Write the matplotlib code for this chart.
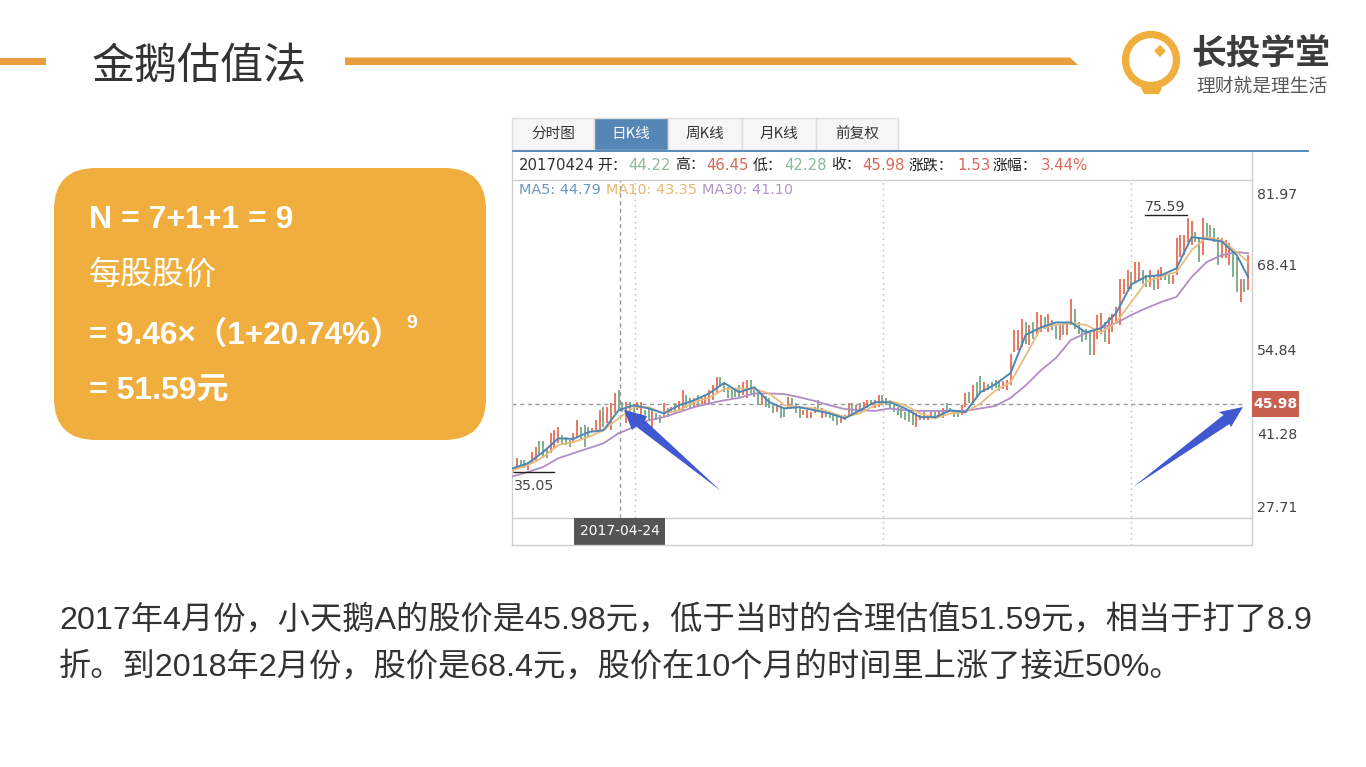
import numpy as np
import matplotlib
matplotlib.use("Agg")
import matplotlib.pyplot as plt
from matplotlib.patches import Rectangle, FancyBboxPatch, Circle, Polygon

# ---------- data ----------
highs = [
 35.9,37.3,37.0,37.0,36.7,38.3,39.1,40.0,40.0,38.9,
 41.3,41.8,42.3,41.0,40.7,40.2,41.3,43.4,42.3,42.6,
 42.3,42.1,43.4,45.0,45.6,45.6,46.1,47.7,48.3,46.4,
 46.4,46.4,46.0,46.4,46.4,45.0,45.3,45.3,44.5,44.2,
 46.1,45.3,45.6,46.1,46.5,48.2,47.4,46.9,46.9,47.4,
 46.9,47.4,48.2,49.0,50.4,50.4,49.6,48.8,48.2,48.6,
 49.0,49.6,49.8,49.8,48.8,48.0,47.7,47.3,46.9,45.8,
 45.8,45.6,45.3,47.2,46.9,46.2,45.6,45.0,45.0,44.8,
 45.6,46.6,45.3,45.0,44.8,44.6,44.2,44.0,44.2,46.1,
 46.1,45.8,46.1,46.4,46.7,46.6,46.6,47.4,47.4,46.9,
 46.4,45.8,45.5,45.3,
 44.7,45.0,44.7,44.5,44.2,44.7,44.2,44.7,44.7,45.0,
 45.4,46.1,45.3,45.0,44.7,45.8,47.7,48.0,49.0,49.6,
 50.5,49.6,49.3,49.5,49.8,49.6,49.7,
 49.8,54.1,57.9,57.9,59.7,59.1,58.7,59.1,60.7,60.3,
 60.0,60.4,59.5,58.7,58.9,58.9,59.2,62.8,61.3,59.2,
 58.0,58.1,57.9,57.9,60.3,60.6,59.2,60.0,
 60.5,61.6,66.1,66.0,67.5,67.2,68.8,68.8,67.6,66.7,
 67.6,66.7,67.6,68.0,66.9,66.9,66.7,72.7,73.1,73.1,
 75.8,75.4,73.6,72.6,75.8,75.1,74.7,74.2,72.8,72.6,
 72.3,71.8,70.4,69.6,66.1,66.1,69.9,
]
lows = [
 34.9,35.9,36.2,35.7,35.4,36.7,36.7,37.8,37.5,37.3,
 38.1,38.9,39.7,39.4,39.4,39.1,39.7,40.7,40.2,39.1,
 40.7,41.5,41.8,41.8,42.3,42.9,41.8,44.5,45.0,44.8,
 42.9,44.8,44.5,45.0,44.2,44.2,43.4,41.8,43.4,43.0,
 43.7,44.0,44.5,44.5,44.9,45.0,45.3,45.3,45.3,45.6,
 45.8,45.9,45.8,46.6,47.7,48.8,48.0,46.9,46.9,47.1,
 47.2,47.4,46.9,47.4,47.2,45.8,45.8,45.5,45.3,44.5,
 44.8,43.8,44.0,45.3,45.3,44.5,43.8,44.2,43.8,43.8,
 44.5,44.8,43.8,44.0,43.7,43.3,42.6,42.9,43.4,44.0,
 44.2,44.2,44.8,45.0,45.3,45.8,45.3,45.6,45.8,45.8,
 45.3,44.8,44.2,43.7,
 43.4,43.1,42.6,42.3,43.4,43.4,43.4,43.7,44.0,43.9,
 43.7,44.5,44.8,44.0,44.0,44.2,45.6,46.1,46.1,46.9,
 47.7,48.0,48.2,48.3,48.5,48.1,48.4,
 48.2,49.0,54.4,54.6,55.2,55.7,55.5,56.5,57.3,57.6,
 58.1,57.6,57.9,56.5,56.3,57.1,57.1,58.7,58.1,57.3,
 56.0,56.3,53.9,53.9,56.5,57.3,56.0,55.7,
 57.6,58.9,58.7,63.7,64.5,64.5,65.6,65.9,65.3,64.8,
 64.8,64.3,64.5,65.9,65.9,65.3,65.3,66.7,69.6,69.9,
 72.0,71.5,72.0,68.8,69.9,72.3,72.6,72.0,68.3,69.4,
 69.4,68.3,66.4,64.0,62.4,64.0,64.3,
]
up = [
 1,1,0,0,1,1,1,0,0,0,
 1,1,1,0,0,0,1,1,0,0,
 0,1,1,1,0,1,1,1,0,0,
 1,0,0,1,1,0,0,1,0,0,
 1,0,1,0,1,1,0,0,1,0,
 1,1,1,1,1,0,0,0,0,0,
 0,1,1,0,0,0,1,0,0,0,
 1,0,0,1,0,0,0,1,1,1,
 1,0,1,0,0,0,0,1,1,1,
 0,1,0,1,1,0,1,1,0,0,
 0,0,0,0,
 0,0,0,1,1,1,1,1,0,1,
 1,0,0,0,0,1,1,0,1,0,
 0,1,0,0,0,0,1,
 1,1,1,1,1,0,1,0,1,1,
 0,1,0,0,1,0,1,1,0,0,
 0,0,0,1,1,1,0,1,
 1,1,1,1,1,0,1,1,0,0,
 1,0,1,1,0,0,1,1,1,1,
 1,1,0,0,1,0,0,0,0,1,
 1,1,0,0,1,0,1,
]
ma5 = [35.7,36.5,38.3,40.5,40.4,41.5,41.8,45.0,45.8,45.3,
       44.5,45.8,46.6,47.7,49.4,47.9,48.7,46.3,45.3,45.5,
       45.0,44.5,43.7,45.0,46.3,46.3,45.3,43.9,43.9,45.0,
       44.7,47.9,49.2,51.0,57.1,58.3,59.1,59.1,57.5,58.2,
       60.6,65.2,66.5,66.7,67.8,72.8,72.5,72.1,69.9,66.4]
ma10 = [35.4,36.2,37.5,39.4,39.9,40.7,41.8,43.7,45.5,45.5,
        44.5,45.0,46.3,47.0,48.4,48.5,48.4,47.7,45.8,45.5,
        45.3,44.7,43.9,44.5,45.8,46.5,45.8,44.5,43.7,44.5,
        44.7,46.1,48.2,49.5,53.8,58.2,58.7,59.0,58.7,57.5,
        59.1,62.4,65.6,66.5,67.2,70.7,72.8,72.3,70.4,68.8]
ma30 = [34.4,35.1,35.9,37.3,38.1,38.9,39.7,41.3,42.3,43.4,
        43.9,44.7,45.5,46.1,46.6,47.0,47.7,47.7,47.6,47.1,
        46.5,45.8,45.2,45.0,44.9,45.3,45.0,44.9,44.9,44.9,
        44.9,45.3,45.7,47.0,49.0,51.4,53.4,56.3,57.4,58.2,
        59.0,60.3,61.4,62.4,63.2,66.4,68.8,69.9,70.4,70.2]
y_ticks = [81.97, 68.41, 54.84, 41.28, 27.71]
last_close = 45.98
period_low, period_high = 35.05, 75.59
tabs = ["分时图", "日K线", "周K线", "月K线", "前复权"]
quote = [("20170424", "#333333", 519), ("开：", "#222222", 597), ("44.22", "#8DB89C", 628),
         ("高：", "#222222", 675), ("46.45", "#D9685A", 706), ("低：", "#222222", 753),
         ("42.28", "#8DB89C", 784), ("收：", "#222222", 831), ("45.98", "#D9685A", 862),
         ("涨跌：", "#222222", 909), ("1.53", "#D9685A", 957), ("涨幅：", "#222222", 993),
         ("3.44%", "#D9685A", 1041)]
ma_labels = [("MA5: 44.79", "#6A97C2", 519), ("MA10: 43.35", "#E6B873", 606), ("MA30: 41.10", "#B194C8", 702)]
title = "金鹅估值法"
box_lines = ["N = 7+1+1 = 9", "每股股价", "= 9.46×（1+20.74%）", "= 51.59元"]
body_lines = ["2017年4月份，小天鹅A的股价是45.98元，低于当时的合理估值51.59元，相当于打了8.9",
              "折。到2018年2月份，股价是68.4元，股价在10个月的时间里上涨了接近50%。"]

LAT = ["Liberation Sans", "Noto Sans CJK SC"]
CJK = ["Noto Sans CJK SC", "DejaVu Sans"]
UI = ["DejaVu Sans", "Noto Sans CJK SC"]
ORANGE = "#EFAE3D"
LINE = "#E89D3E"
GRAY = "#CFCFCF"
BLUE = "#5586B5"

W, H = 1366, 767
fig = plt.figure(figsize=(W / 100, H / 100), dpi=100, facecolor="white")

# ---------- chart panel (data scales) ----------
ax = fig.add_axes([512 / W, 1 - 518 / H, 740 / W, 338 / H])
STEP, X0 = 3.77, 513
ax.set_xlim((512 - X0) / STEP, (1252 - X0) / STEP)
ax.set_ylim(y_ticks[-1], y_ticks[0])
idx = np.arange(len(highs))
colors = ["#EB6C52" if u else "#75A886" for u in up]
ax.vlines(idx, lows, highs, colors=colors, linewidth=1.3, zorder=2)
ma_idx = np.append(np.arange(0, len(highs), 4), len(highs) - 1)
ax.plot(ma_idx, ma30, color="#B08DC6", lw=1.3, zorder=3)
ax.plot(ma_idx, ma10, color="#E8BC7C", lw=1.3, zorder=4)
ax.plot(ma_idx, ma5, color="#4F86B4", lw=1.4, zorder=5)
for g in ((635 - X0) / STEP, (883 - X0) / STEP, (1131 - X0) / STEP):
    ax.axvline(g, ymin=-27 / 338, ymax=1, color="#BBBBBB", lw=1, ls=(0, (1, 3)), clip_on=False, zorder=1)
ax.axvline((620 - X0) / STEP, color="#999999", lw=1, ls=(0, (3, 2.5)), zorder=1)
ax.axhline(last_close, xmax=733 / 740, color="#999999", lw=1, ls=(0, (3, 2.5)), zorder=1)
ax.set_xticks([])
ax.yaxis.tick_right()
ax.set_yticks(y_ticks)
ax.set_yticklabels([f"{v:.2f}" for v in y_ticks], fontsize=10.2, color="#444444", family=UI)
ax.tick_params(axis="y", length=0, pad=3.5)
labs = ax.get_yticklabels()
labs[0].set_va("top"); labs[0].set_y(y_ticks[0])
labs[-1].set_va("bottom")
for l in labs[:1]:
    l.set_transform(l.get_transform() + matplotlib.transforms.ScaledTranslation(0, -6 / 72, fig.dpi_scale_trans))
labs[-1].set_transform(labs[-1].get_transform() + matplotlib.transforms.ScaledTranslation(0, 2 / 72, fig.dpi_scale_trans))
for s in ax.spines.values():
    s.set_color(GRAY); s.set_linewidth(1)
ax.text(0.2, period_low - 1.05, f"{period_low:.2f}", fontsize=10.2, color="#444444", family=UI, va="top")
ax.plot([0.2, 11], [period_low, period_low], color="#222222", lw=1, zorder=6)
ax.text((1145 - X0) / STEP, period_high + 0.95, f"{period_high:.2f}", fontsize=10.2, color="#444444", family=UI, va="bottom")
ax.plot([(1145 - X0) / STEP, (1187 - X0) / STEP], [period_high + 0.8] * 2, color="#222222", lw=1, zorder=6)

# ---------- slide decoration (pixel coordinates) ----------
ov = fig.add_axes([0, 0, 1, 1], zorder=5)
ov.set_xlim(0, W); ov.set_ylim(H, 0); ov.axis("off"); ov.patch.set_alpha(0)

ov.add_patch(Rectangle((0, 57.5), 46, 7, color=LINE, lw=0))
ov.add_patch(Polygon([(345, 57.5), (1070, 57.5), (1078, 65), (345, 65)], color=LINE, lw=0))
ov.text(92, 67, title, fontsize=31, color="#333333", family=CJK, va="center", ha="left")

# logo
ov.add_patch(Circle((1151, 60), 25.5, fill=False, ec="#F0AE3D", lw=5.2))
ov.add_patch(Polygon([(1143, 82), (1159, 82), (1162, 88), (1159, 94), (1144, 94), (1141, 88)], color="#F0AE3D", lw=0))
ov.add_patch(Polygon([(1160, 45), (1166, 51), (1160, 57), (1154, 51)], color="#F0AE3D", lw=0))
ov.text(1261, 54, "长投学堂", fontsize=25, color="#3C3C3C", family=CJK, weight="bold", ha="center", va="center")
ov.text(1262, 86, "理财就是理生活", fontsize=13.5, color="#555555", family=CJK, ha="center", va="center")

# info box
ov.add_patch(FancyBboxPatch((54 + 42, 168 + 42), 432 - 84, 272 - 84, boxstyle="round,pad=42,rounding_size=42",
                            fc=ORANGE, ec="none", mutation_aspect=1))
ov.text(89, 220, box_lines[0], fontsize=23, color="white", weight="bold", family=LAT, va="center")
ov.text(89, 275, box_lines[1], fontsize=23, color="white", family=CJK, va="center")
ov.text(89, 336, box_lines[2], fontsize=22.7, color="white", weight="bold", family=LAT, va="center")
ov.text(406, 323, "9", fontsize=14, color="white", weight="bold", family=LAT, va="center")
ov.text(89, 391, box_lines[3], fontsize=23, color="white", weight="bold", family=LAT, va="center")

# tabs
edges = [512, 594, 668, 742, 816, 898]
for i, t in enumerate(tabs):
    active = i == 1
    ov.add_patch(Rectangle((edges[i], 118), edges[i + 1] - edges[i], 32, fc=BLUE if active else "#F6F6F6",
                           ec="#DDDDDD", lw=1))
    ov.text((edges[i] + edges[i + 1]) / 2, 134, t, fontsize=10.5, color="white" if active else "#333333",
            family=CJK, ha="center", va="center")
ov.add_patch(Rectangle((512, 149.5), 797, 2.5, color="#5B8DB8", lw=0))
ov.plot([512, 512], [152, 180], color=GRAY, lw=1)
ov.plot([1252, 1252], [152, 180], color=GRAY, lw=1)
ov.plot([512, 512], [518, 545], color=GRAY, lw=1)
ov.plot([1252, 1252], [518, 545], color=GRAY, lw=1)
ov.plot([512, 1252], [545, 545], color=GRAY, lw=1)
for txt, col, x in quote:
    ov.text(x, 165, txt, fontsize=10.7, color=col, family=UI, va="center")
for txt, col, x in ma_labels:
    ov.text(x, 190, txt, fontsize=10.4, color=col, family=UI, va="center")

# value flags
ov.add_patch(Rectangle((1252, 391), 47, 26, color="#C9604F", lw=0))
ov.text(1275.5, 404.5, f"{last_close:.2f}", fontsize=10, color="white", weight="bold", family=UI, ha="center", va="center")
ov.add_patch(Rectangle((574, 518), 91, 27, color="#555555", lw=0))
ov.text(619.5, 531, "2017-04-24", fontsize=10, color="white", family=UI, ha="center", va="center")

# arrows
ARROW = "#4059D0"
ov.add_patch(Polygon([(624, 410), (647, 416), (645, 420.5), (721, 491), (636, 426.5), (632, 430)], color=ARROW, lw=0))
ov.add_patch(Polygon([(1243, 407), (1219, 412), (1223.5, 415), (1133, 487), (1229.5, 424), (1231, 427)], color=ARROW, lw=0))

# body text
ov.text(59, 620, body_lines[0], fontsize=23.2, color="#333333", family=LAT, va="center")
ov.text(59, 667, body_lines[1], fontsize=23.2, color="#333333", family=LAT, va="center")

fig.savefig("out.png", dpi=100)
